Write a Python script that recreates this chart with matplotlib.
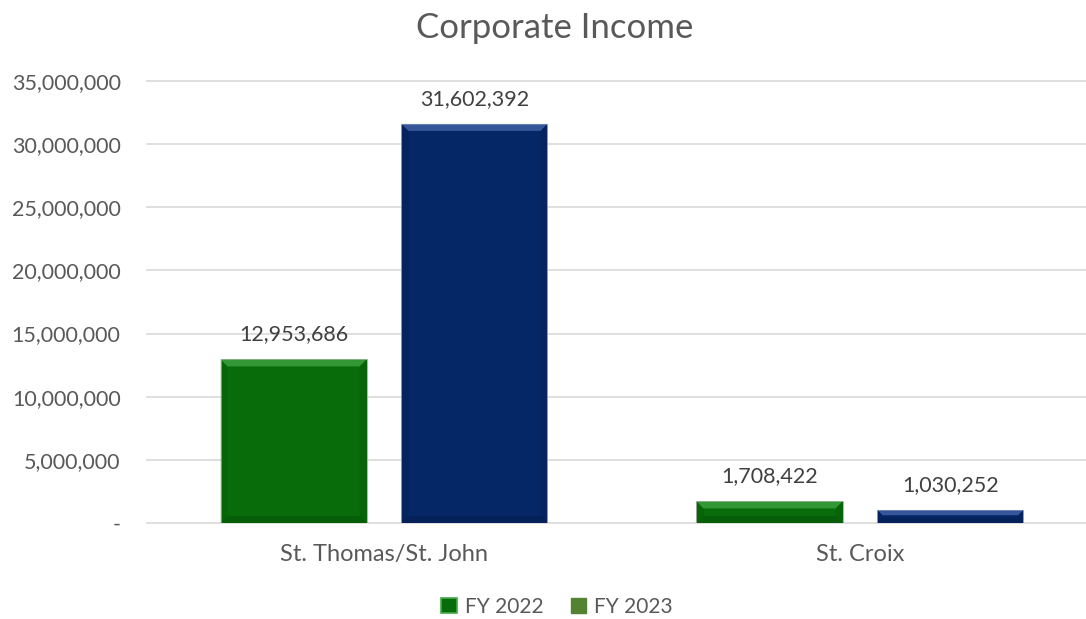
import matplotlib
matplotlib.use("Agg")
import matplotlib.pyplot as plt
from matplotlib.patches import Polygon, Patch
from matplotlib.ticker import FuncFormatter

categories = ["St. Thomas/St. John", "St. Croix"]
series_names = ["FY 2022", "FY 2023"]
fy2022 = [12953686, 1708422]
fy2023 = [31602392, 1030252]
y_ticks = [0, 5000000, 10000000, 15000000, 20000000, 25000000, 30000000, 35000000]

plt.rcParams["font.family"] = ["Lato", "DejaVu Sans"]

W, H = 1086, 619
fig = plt.figure(figsize=(W / 100, H / 100), dpi=100)
ax = fig.add_axes([147 / W, (H - 523) / H, 1 - 147 / W, (523 - 81) / H])

bar_w = 0.307
offset = 0.19
# base, top highlight, bottom shade, side shade
colors = {"FY 2022": ("#086c0a", "#45aa47", "#033f05", "#055208"),
          "FY 2023": ("#052766", "#4a6cb0", "#021540", "#031c50")}

x = list(range(len(categories)))
bars = {}
for name, vals, off in [("FY 2022", fy2022, -offset), ("FY 2023", fy2023, offset)]:
    bars[name] = ax.bar([i + off for i in x], vals, width=bar_w,
                        color=colors[name][0], edgecolor="#b8b8b8",
                        linewidth=0.6, zorder=3)

ax.set_xlim(-0.498, 1.475)
ax.set_ylim(0, 35000000)
ax.set_yticks(y_ticks)
ax.yaxis.set_major_formatter(FuncFormatter(lambda v, p: "-" if v == 0 else f"{int(v):,}"))
ax.set_xticks(x)
ax.set_xticklabels(categories, fontsize=17)
ax.tick_params(axis="both", length=0, labelcolor="#595959")
ax.tick_params(axis="y", labelsize=15.5, pad=19)
ax.tick_params(axis="x", pad=15)
for s in ax.spines.values():
    s.set_visible(False)
ax.grid(axis="y", color="#d9d9d9", linewidth=1.2, zorder=0)
ax.set_axisbelow(True)
for gl in ax.get_ygridlines():
    gl.set_clip_on(False)

# bevelled edges drawn in pixel space over each bar
fig.canvas.draw()
bev = 7
for name in series_names:
    base, light, dark, side = colors[name]
    for rect in bars[name]:
        x0, y0 = rect.get_x(), rect.get_y()
        x1, y1 = x0 + rect.get_width(), y0 + rect.get_height()
        (px0, py0), (px1, py1) = ax.transData.transform([(x0, y0), (x1, y1)])
        b = min(bev, (py1 - py0) / 2.5)
        polys = [
            ([(px0, py1), (px1, py1), (px1 - b, py1 - b), (px0 + b, py1 - b)], light, 0.7),
            ([(px0, py0), (px1, py0), (px1 - b, py0 + b), (px0 + b, py0 + b)], dark, 0.3),
            ([(px0, py0), (px0 + b, py0 + b), (px0 + b, py1 - b), (px0, py1)], side, 0.3),
            ([(px1, py0), (px1 - b, py0 + b), (px1 - b, py1 - b), (px1, py1)], side, 0.3),
        ]
        for pts, c, a in polys:
            fig.patches.append(Polygon(pts, closed=True, facecolor=c, edgecolor="none",
                                       alpha=a, transform=None, figure=fig, zorder=4))
        ax.annotate(f"{int(rect.get_height()):,}",
                    (rect.get_x() + rect.get_width() / 2, rect.get_height()),
                    xytext=(0, 11), textcoords="offset points", ha="center", va="bottom",
                    fontsize=15.5, color="#404040")

fig.text(555 / W, 1 - 28 / H, "Corporate Income", ha="center", va="center",
         fontsize=25, color="#595959")

handles = [Patch(facecolor="#086c0a", edgecolor="#45aa47", linewidth=1.2),
           Patch(facecolor="#548235", edgecolor="#548235")]
fig.legend(handles, series_names, loc="center", bbox_to_anchor=(557 / W, 1 - 607 / H),
           ncol=2, frameon=False, fontsize=15, labelcolor="#595959",
           handlelength=0.75, handleheight=0.75, handletextpad=0.4, columnspacing=1.3)

fig.savefig("out.png", dpi=100)
